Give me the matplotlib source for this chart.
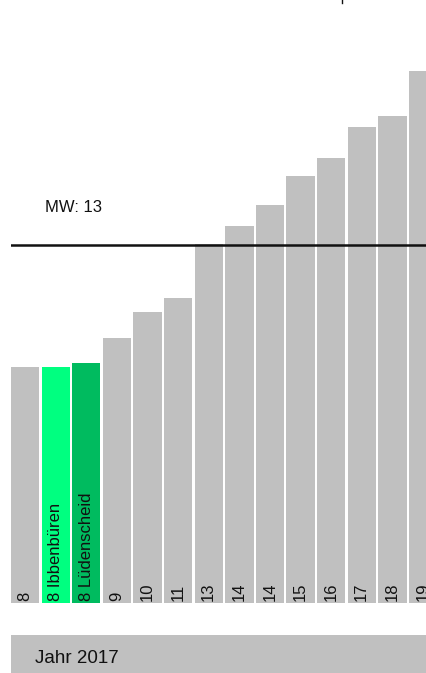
import matplotlib
matplotlib.use("Agg")
import matplotlib.pyplot as plt
from matplotlib.lines import Line2D

plt.rcParams['font.family'] = ['Liberation Sans', 'DejaVu Sans']

# === DATEN ===
labels = ["8", "8 Ibbenbüren", "8 Lüdenscheid", "9", "10", "11", "13",
          "14", "14", "15", "16", "17", "18", "19"]
values = [8.57, 8.57, 8.71, 9.62, 10.57, 11.07, 13.04,
          13.69, 14.45, 15.50, 16.16, 17.28, 17.68, 19.32]
colors = ["#c0c0c0", "#00ff80", "#00bb5f"] + ["#c0c0c0"] * 11
mean_value = 13
year_label = "Jahr 2017"

W, H = 427, 673
fig = plt.figure(figsize=(W / 100, H / 100), dpi=100)

# Hauptachse: Balken von x=11px bis rechter Rand, Basis bei y=603px
ax = fig.add_axes([11 / W, (H - 603) / H, (W - 11) / W, 603 / H])
pitch = 30.6
x = list(range(len(values)))
ax.bar(x, values, width=28.3 / pitch, align='edge', color=colors, linewidth=0)
ax.set_xlim(0, (W - 11) / pitch)
ax.set_ylim(0, 603 / (358 / mean_value))
ax.axis('off')

for xi, lab in zip(x, labels):
    ax.annotate(lab, xy=(xi + 28.3 / pitch / 2, 0), xytext=(0, 2),
                textcoords='offset pixels', rotation=90,
                ha='center', va='bottom', fontsize=12, color='#111111')

# Mittelwert-Linie
ax.axhline(mean_value, color='#111111', lw=1.8)
ax.annotate(f"MW: {mean_value}", xy=(0, mean_value), xytext=(34, 38),
            textcoords='offset pixels', ha='left', va='center',
            fontsize=12, color='#111111')

# Jahr-Band unten
band = fig.add_axes([11 / W, 0, (W - 11) / W, 38 / H])
band.set_facecolor('#c0c0c0')
band.set_xticks([])
band.set_yticks([])
for s in band.spines.values():
    s.set_visible(False)
band.text(24 / (W - 11), 10 / 38, year_label, transform=band.transAxes,
          ha='left', va='baseline', fontsize=13.5, color='#111111')

# kleiner Strich oben
fig.add_artist(Line2D([342 / W, 342 / W], [1, (H - 3) / H],
                      transform=fig.transFigure, color='#111111', lw=1))

fig.savefig("out.png", dpi=100)
